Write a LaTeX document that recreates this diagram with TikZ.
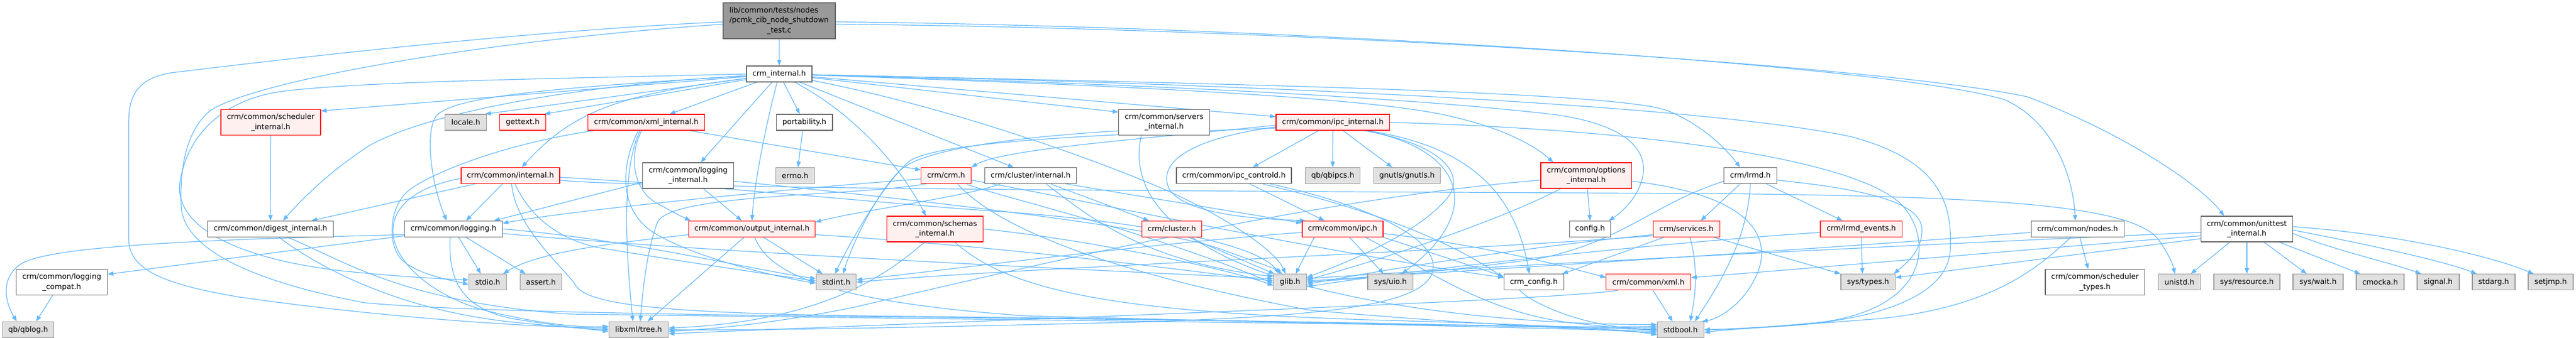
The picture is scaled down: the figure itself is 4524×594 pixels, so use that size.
\documentclass[tikz,border=0pt]{standalone}
\usepackage{fontspec}
\newfontfamily\dfont{DejaVu Sans}
\usetikzlibrary{arrows.meta}
\definecolor{edgec}{HTML}{63B8FF}
\definecolor{redfill}{HTML}{FFF0F0}
\definecolor{redb}{HTML}{FF0000}
\definecolor{grayfill}{HTML}{E0E0E0}
\definecolor{grayb}{HTML}{999999}
\definecolor{normb}{HTML}{666666}
\definecolor{topfill}{HTML}{999999}
\pgfdeclarelayer{bg}
\pgfsetlayers{bg,main}
\begin{document}
\begin{tikzpicture}[x=1pt,y=-1pt,
  hbox/.style={draw=normb, fill=white, line width=1.2pt, inner sep=0pt, align=center, font=\dfont\fontsize{13}{17.2}\selectfont, text=black},
  redbox/.style={hbox, draw=redb, fill=redfill},
  sysbox/.style={hbox, draw=grayb, fill=grayfill},
  topbox/.style={hbox, draw=normb, fill=topfill},
  sa/.style={minimum height=28pt},
  sb/.style={minimum height=45pt},
  dep/.style={draw=edgec, line width=1.2pt, -{Triangle[length=10pt,width=7.5pt]}}
]
\useasboundingbox (0,0) rectangle (4524,594);
% nodes
\node[topbox, minimum width=197pt, minimum height=63pt, text width=175pt, align=left] (topf) at (1368.5,36.5) {lib/common/tests/nodes\\/pcmk\_cib\_node\_shutdown\\\hspace*{\fill}\_test.c\hspace*{\fill}};
\node[hbox, sa, minimum width=115pt] (crmint) at (1368.5,130) {crm\_internal.h};
\node[redbox, sb, minimum width=175pt] (schedint) at (475.5,215) {crm/common/scheduler\\\_internal.h};
\node[hbox, sa, minimum width=221pt] (digest) at (475,402.4) {crm/common/digest\_internal.h};
\node[hbox, sb, minimum width=160pt] (logcompat) at (108.5,496) {crm/common/logging\\\_compat.h};
\node[sysbox, sa, minimum width=90pt] (qblog) at (49.5,579.5) {qb/qblog.h};
\node[sysbox, sa, minimum width=73pt] (locale) at (818,215) {locale.h};
\node[redbox, sa, minimum width=81pt] (gettext) at (918,215) {gettext.h};
\node[redbox, sa, minimum width=205pt] (xmlint) at (1135,215) {crm/common/xml\_internal.h};
\node[redbox, sa, minimum width=173pt] (cint) at (896.5,308.6) {crm/common/internal.h};
\node[hbox, sa, minimum width=171.5pt] (logging) at (796.5,402.4) {crm/common/logging.h};
\node[sysbox, sa, minimum width=66pt] (stdio) at (856.5,495.8) {stdio.h};
\node[sysbox, sa, minimum width=73pt] (assert) at (950,495.8) {assert.h};
\node[sysbox, sa, minimum width=104.6pt] (libxml) at (1121.5,579.5) {libxml/tree.h};
\node[hbox, sa, minimum width=98.7pt] (portab) at (1412.6,215) {portability.h};
\node[sysbox, sa, minimum width=68pt] (errno) at (1396.4,308.6) {errno.h};
\node[hbox, sb, minimum width=160pt] (logint) at (1208.5,308.5) {crm/common/logging\\\_internal.h};
\node[redbox, sa, minimum width=222pt] (outint) at (1320.6,402.4) {crm/common/output\_internal.h};
\node[sysbox, sa, minimum width=70.4pt] (stdint) at (1468.5,495.8) {stdint.h};
\node[redbox, sa, minimum width=87.7pt] (crm) at (1661.6,308.6) {crm/crm.h};
\node[redbox, sb, minimum width=169pt] (schemas) at (1642,402.4) {crm/common/schemas\\\_internal.h};
\node[hbox, sa, minimum width=160.7pt] (clint) at (1810,308.6) {crm/cluster/internal.h};
\node[hbox, sb, minimum width=159.6pt] (servers) at (2044.4,215) {crm/common/servers\\\_internal.h};
\node[redbox, sa, minimum width=105.7pt] (cluster) at (2058,402.4) {crm/cluster.h};
\node[hbox, sa, minimum width=202pt] (ipcctl) at (2167,308.6) {crm/common/ipc\_controld.h};
\node[sysbox, sa, minimum width=57.8pt] (glib) at (2265.6,495.8) {glib.h};
\node[redbox, sa, minimum width=199.3pt] (ipcint) at (2340.7,215) {crm/common/ipc\_internal.h};
\node[sysbox, sa, minimum width=95.7pt] (qbipcs) at (2340.5,308.6) {qb/qbipcs.h};
\node[sysbox, sa, minimum width=117.5pt] (gnutls) at (2471,308.6) {gnutls/gnutls.h};
\node[redbox, sa, minimum width=142pt] (ipc) at (2358,402.4) {crm/common/ipc.h};
\node[sysbox, sa, minimum width=79.7pt] (uio) at (2441.9,495.8) {sys/uio.h};
\node[hbox, sa, minimum width=104.8pt] (crmconfig) at (2693.7,495.8) {crm\_config.h};
\node[redbox, sb, minimum width=159.7pt] (options) at (2785.8,308.5) {crm/common/options\\\_internal.h};
\node[hbox, sa, minimum width=72.7pt] (config) at (2792.5,402.4) {config.h};
\node[hbox, sa, minimum width=93pt] (lrmd) at (3074,308.6) {crm/lrmd.h};
\node[redbox, sa, minimum width=116.7pt] (services) at (2961.9,402.4) {crm/services.h};
\node[redbox, sa, minimum width=143.5pt] (lrmdev) at (3268.8,402.4) {crm/lrmd\_events.h};
\node[redbox, sa, minimum width=148.5pt] (xml) at (2895,495.8) {crm/common/xml.h};
\node[sysbox, sa, minimum width=95.3pt] (systypes) at (3280.7,495.8) {sys/types.h};
\node[sysbox, sa, minimum width=82pt] (stdbool) at (2951.4,579.5) {stdbool.h};
\node[hbox, sa, minimum width=163pt] (nodes) at (3648.7,402.4) {crm/common/nodes.h};
\node[hbox, sb, minimum width=174.5pt] (schedtypes) at (3679.3,496) {crm/common/scheduler\\\_types.h};
\node[sysbox, sa, minimum width=74pt] (unistd) at (3827.6,495.8) {unistd.h};
\node[hbox, sb, minimum width=161pt] (unittest) at (3946,402.4) {crm/common/unittest\\\_internal.h};
\node[sysbox, sa, minimum width=116pt] (resource) at (3946,495.8) {sys/resource.h};
\node[sysbox, sa, minimum width=88pt] (wait) at (4071,495.8) {sys/wait.h};
\node[sysbox, sa, minimum width=84pt] (cmocka) at (4180,495.8) {cmocka.h};
\node[sysbox, sa, minimum width=74pt] (signal) at (4282,495.8) {signal.h};
\node[sysbox, sa, minimum width=75pt] (stdarg) at (4379.5,495.8) {stdarg.h};
\node[sysbox, sa, minimum width=79pt] (setjmp) at (4479.5,495.8) {setjmp.h};

\begin{pgfonlayer}{bg}
\fill[white] (0,0) rectangle (4524,594);
% top
\draw[dep] (topf) -- (crmint);
\draw[dep] ([yshift=-2pt]topf.west) .. controls (900,55) and (450,110) .. (300,128) .. controls (240,138) and (226,170) .. (226,215) -- (226,420) .. controls (226,475) and (290,500) .. (420,522) .. controls (650,555) and (900,574) .. ([yshift=3pt]libxml.west);
\draw[dep] ([yshift=-6pt]topf.west) .. controls (800,75) and (420,150) .. (365,198) .. controls (325,235) and (316,300) .. (318,360) .. controls (320,430) and (420,490) .. (640,532) .. controls (900,556) and (1700,556) .. (2300,566) .. controls (2600,572) and (2800,576) .. ([yshift=6pt]stdbool.west);
\draw[dep] ([yshift=-2pt]topf.east) .. controls (2200,45) and (3300,110) .. (3520,175) .. controls (3600,210) and (3640,300) .. ([xshift=-4pt]nodes.north);
\draw[dep] ([yshift=-6pt]topf.east) .. controls (2300,50) and (3300,115) .. (3560,170) .. controls (3720,230) and (3860,320) .. ([xshift=-40pt]unittest.north);
% crm_internal
\draw[dep] (crmint) -- ([yshift=-3pt]schedint.north east);
\draw[dep] (crmint) .. controls (1000,150) and (750,200) .. (650,255) .. controls (580,300) and (530,350) .. ([xshift=22pt]digest.north);
\draw[dep] (crmint) -- ([xshift=-3pt]locale.north east);
\draw[dep] (crmint) -- ([xshift=-3pt]gettext.north east);
\draw[dep] (crmint) -- ([xshift=41pt]xmlint.north);
\draw[dep] (crmint) .. controls (1100,165) and (1010,190) .. ([xshift=20pt]cint.north);
\draw[dep] (crmint) .. controls (900,158) and (790,175) .. (765,205) .. controls (745,240) and (760,330) .. ([xshift=-12pt]logging.north);
\draw[dep] (crmint) -- ([xshift=22pt]logint.north);
\draw[dep] (crmint) .. controls (1345,220) and (1325,320) .. (outint.north);
\draw[dep] (crmint) -- ([xshift=-8pt]portab.north);
\draw[dep] (crmint) .. controls (1500,200) and (1580,290) .. ([xshift=-16pt]schemas.north);
\draw[dep] (crmint) -- ([xshift=-30pt]clint.north);
\draw[dep] (crmint) -- ([yshift=18pt]servers.west);
\draw[dep] (crmint) -- ([yshift=10pt]ipcint.west);
\draw[dep] (crmint) .. controls (1900,148) and (2400,168) .. (2550,205) .. controls (2650,228) and (2700,260) .. ([xshift=-58pt]options.north);
\draw[dep] (crmint) .. controls (1900,145) and (2400,165) .. (2700,198) .. controls (2850,212) and (2895,260) .. (2885,310) .. controls (2878,345) and (2850,372) .. ([xshift=-4pt]config.north east);
\draw[dep] (crmint) .. controls (2200,148) and (2850,162) .. (2930,195) .. controls (2990,220) and (3030,260) .. ([xshift=-18pt]lrmd.north);
\draw[dep] (crmint) .. controls (2300,150) and (3000,188) .. (3250,240) .. controls (3400,280) and (3430,350) .. (3425,440) .. controls (3420,520) and (3300,560) .. (3150,572) .. controls (3080,577) and (3030,579) .. (stdbool.east);
\draw[dep] (crmint) .. controls (1650,185) and (1900,270) .. (2050,335) .. controls (2150,380) and (2240,440) .. ([xshift=-8pt]glib.north);
\draw[dep] (crmint.west) .. controls (1000,138) and (650,142) .. (500,160) .. controls (400,172) and (330,230) .. (316,320) .. controls (305,400) and (420,455) .. (600,476) .. controls (700,486) and (770,490) .. ([yshift=4pt]stdio.west);
% scheduler / digest
\draw[dep] (schedint) -- (digest);
\draw[dep] ([xshift=15pt]digest.south) .. controls (560,470) and (700,545) .. (900,566) .. controls (990,575) and (1030,578) .. (libxml.west);
\draw[dep] ([xshift=30pt]digest.south) .. controls (600,455) and (700,530) .. (1000,552) .. controls (1800,562) and (2600,572) .. ([yshift=3pt]stdbool.west);
% logging
\draw[dep] ([xshift=-16pt]logcompat.south) -- ([xshift=14pt]qblog.north);
\draw[dep] ([yshift=-10pt]logging.west) .. controls (400,420) and (100,430) .. (40,462) .. controls (0,485) and (8,530) .. ([xshift=-20pt]qblog.north);
\draw[dep] ([yshift=-12pt]logging.west) -- ([yshift=14pt]logcompat.east);
\draw[dep] ([xshift=9pt]logging.south) -- ([xshift=-12pt]stdio.north);
\draw[dep] ([xshift=22pt]logging.south) -- ([xshift=-27pt]assert.north);
\draw[dep] ([xshift=-6pt]logging.south) .. controls (788,480) and (800,540) .. (900,560) .. controls (980,573) and (1030,578) .. ([yshift=-3pt]libxml.west);
\draw[dep] (logging.east) .. controls (1100,420) and (1300,470) .. ([yshift=6pt]stdint.west);
\draw[dep] ([yshift=-8pt]logging.east) .. controls (1300,448) and (2000,478) .. ([yshift=6pt]glib.west);
\draw[dep] ([xshift=-3pt]portab.south) -- ([xshift=5pt]errno.north);
% internal.h
\draw[dep] ([xshift=-62pt]cint.south) -- ([xshift=72pt]digest.north);
\draw[dep] ([xshift=-14pt]cint.south) -- ([xshift=22pt]logging.north);
\draw[dep] ([yshift=-5pt]cint.west) .. controls (720,330) and (690,370) .. (690,405) .. controls (690,460) and (760,520) .. (850,545) .. controls (950,570) and (1020,576) .. ([yshift=6pt]libxml.west);
\draw[dep] ([xshift=2pt]cint.south) .. controls (905,400) and (990,470) .. (1010,500) .. controls (1030,540) and (1200,552) .. (1600,556) .. controls (2200,562) and (2700,574) .. (stdbool.west);
\draw[dep] ([xshift=8pt]cint.south) .. controls (930,380) and (980,420) .. (1050,435) .. controls (1200,460) and (1350,482) .. ([yshift=2pt]stdint.west);
\draw[dep] ([yshift=-8pt]cint.east) .. controls (1100,330) and (2000,336) .. (3000,340) .. controls (3500,345) and (3740,360) .. (3790,420) .. controls (3808,445) and (3816,465) .. ([xshift=-8pt]unistd.north);
\draw[dep] ([yshift=-3pt]cint.east) .. controls (1300,330) and (1600,362) .. (1760,372) .. controls (1950,385) and (2200,420) .. ([xshift=-18pt]glib.north);
% xml_internal
\draw[dep] ([xshift=76pt]xmlint.south) -- ([yshift=10pt]crm.west);
\draw[dep] ([xshift=-8pt]xmlint.south) .. controls (1105,270) and (1110,330) .. (1150,355) .. controls (1180,372) and (1200,382) .. ([xshift=4pt]outint.north west);
\draw[dep] ([xshift=-11pt]xmlint.south) .. controls (1090,300) and (1100,450) .. ([xshift=-10pt]libxml.north);
\draw[dep] ([xshift=-14pt]xmlint.south) .. controls (1090,290) and (1085,370) .. (1150,410) .. controls (1220,452) and (1350,484) .. ([yshift=-2pt]stdint.west);
\draw[dep] ([xshift=-92pt]xmlint.south) .. controls (900,250) and (760,300) .. (715,337) .. controls (680,370) and (680,440) .. (712,462) .. controls (745,485) and (790,492) .. ([yshift=-4pt]stdio.west);
% logging_internal
\draw[dep] ([xshift=27pt]logint.south) -- ([xshift=-18pt]outint.north);
\draw[dep] ([yshift=-12pt]logint.west) -- ([xshift=71pt]logging.north);
\draw[dep] ([yshift=-10pt]logint.east) .. controls (1600,350) and (2050,400) .. (2150,440) .. controls (2210,462) and (2240,472) .. ([xshift=-14pt]glib.north);
% output_internal
\draw[dep] ([xshift=-14pt]outint.south) -- ([xshift=16pt]libxml.north);
\draw[dep] ([xshift=20pt]outint.south) -- ([xshift=-24pt]stdint.north);
\draw[dep] ([yshift=-10pt]outint.west) .. controls (1100,425) and (950,440) .. ([xshift=27pt]stdio.north);
\draw[dep] ([xshift=5pt]outint.south) .. controls (1350,480) and (1450,530) .. (1800,555) .. controls (2300,568) and (2700,576) .. ([yshift=-3pt]stdbool.west);
\draw[dep] ([yshift=-10pt]outint.east) .. controls (1800,436) and (2100,478) .. ([yshift=2pt]glib.west);
% crm.h
\draw[dep] ([yshift=-6pt]crm.west) .. controls (1400,330) and (1000,370) .. ([yshift=10pt]logging.east);
\draw[dep] (crm) .. controls (1750,345) and (2000,400) .. ([yshift=-2pt]glib.west);
\draw[dep] ([xshift=20pt]crm.south) .. controls (1750,400) and (1950,480) .. (2300,545) .. controls (2600,572) and (2800,578) .. ([yshift=-6pt]stdbool.west);
\draw[dep] ([yshift=-8pt]crm.east) .. controls (1900,350) and (2300,440) .. ([yshift=8pt]crmconfig.west);
\draw[dep] ([xshift=-35pt]crm.south) .. controls (1500,345) and (1180,340) .. (1155,390) .. controls (1135,440) and (1128,520) .. ([xshift=3pt]libxml.north);
% schemas
\draw[dep] ([xshift=-18pt]schemas.south) .. controls (1560,480) and (1450,565) .. ([yshift=3pt]libxml.east);
\draw[dep] (schemas.east) .. controls (1900,420) and (2150,470) .. ([yshift=-6pt]glib.west);
\draw[dep] ([xshift=-50pt]schemas.south east) .. controls (1780,520) and (2000,548) .. (2400,562) .. controls (2700,570) and (2850,578) .. ([yshift=-9pt]stdbool.west);
% cluster internal
\draw[dep] ([xshift=35pt]clint.south) -- ([xshift=-40pt]cluster.north);
\draw[dep] ([xshift=27pt]clint.south) .. controls (1900,370) and (2000,460) .. ([yshift=10pt]glib.west);
\draw[dep] ([xshift=62pt]clint.south) -- ([yshift=-4pt]ipc.north west);
\draw[dep] ([xshift=-53pt]clint.south) .. controls (1700,345) and (1500,372) .. ([yshift=12pt]outint.east);
% servers
\draw[dep] ([xshift=-40pt]servers.south) .. controls (1990,300) and (2010,380) .. (2150,450) .. controls (2300,525) and (2600,570) .. ([yshift=9pt]stdbool.west);
\draw[dep] ([yshift=-15pt]servers.west) .. controls (1800,240) and (1620,260) .. (1580,300) .. controls (1540,340) and (1500,420) .. ([xshift=12pt]stdint.north);
% ipc_internal
\draw[dep] ([yshift=-10pt]ipcint.west) .. controls (2000,235) and (1640,245) .. (1595,285) .. controls (1555,320) and (1495,420) .. ([xshift=-2pt]stdint.north);
\draw[dep] ([yshift=-5pt]ipcint.west) .. controls (2000,245) and (1760,262) .. (crm.north east);
\draw[dep] ([xshift=-25pt]ipcint.south) -- ([xshift=33pt]ipcctl.north);
\draw[dep] (ipcint.south) -- (qbipcs.north);
\draw[dep] ([xshift=18pt]ipcint.south) -- ([xshift=-26pt]gnutls.north);
\draw[dep] ([yshift=-8pt]ipcint.west) .. controls (2080,245) and (2030,290) .. (2055,335) .. controls (2090,380) and (2220,385) .. ([xshift=6pt]ipc.north west);
\draw[dep] ([xshift=55pt]ipcint.south) .. controls (2540,255) and (2575,310) .. (2540,350) .. controls (2480,420) and (2340,470) .. ([yshift=8pt]glib.east);
\draw[dep] ([xshift=57pt]ipcint.south) .. controls (2570,262) and (2610,370) .. ([xshift=20pt]uio.north);
\draw[dep] ([xshift=60pt]ipcint.south) .. controls (2570,255) and (2660,330) .. ([xshift=-8pt]crmconfig.north);
\draw[dep] (ipcint.east) .. controls (2900,228) and (3260,280) .. (3340,360) .. controls (3395,420) and (3390,540) .. (3200,566) .. controls (3100,576) and (3030,579) .. ([yshift=-5pt]stdbool.east);
% ipc_controld
\draw[dep] ([xshift=28pt]ipcctl.south) -- ([xshift=-32pt]ipc.north);
\draw[dep] ([xshift=64pt]ipcctl.south) .. controls (2400,360) and (2535,420) .. (2515,480) .. controls (2495,540) and (2300,556) .. (2000,566) .. controls (1600,576) and (1300,581) .. (libxml.east);
\draw[dep] ([xshift=50pt]ipcctl.south) .. controls (2330,350) and (2560,410) .. (2680,520) .. controls (2760,570) and (2860,578) .. ([yshift=-1pt]stdbool.west);
% ipc
\draw[dep] ([xshift=12pt]ipc.south) -- ([xshift=-12pt]uio.north);
\draw[dep] (ipc.south east) -- ([yshift=10pt]crmconfig.west);
\draw[dep] ([xshift=-50pt]ipc.south) -- ([xshift=10pt]glib.north);
\draw[dep] ([yshift=-6pt]ipc.west) .. controls (2000,430) and (1700,470) .. ([yshift=4pt]stdint.east);
\draw[dep] ([xshift=40pt]ipc.south) .. controls (2500,470) and (2600,545) .. (2750,566) .. controls (2830,576) and (2880,579) .. ([yshift=1pt]stdbool.west);
\draw[dep] ([yshift=-8pt]ipc.east) .. controls (2600,430) and (2750,468) .. ([yshift=8pt]xml.west);
\draw[dep] ([xshift=30pt]cluster.south) -- ([xshift=2pt]glib.north west);
% options
\draw[dep] ([xshift=2pt]options.south) -- (config.north);
\draw[dep] ([xshift=-45pt]options.south) .. controls (2650,380) and (2450,450) .. ([yshift=4pt]glib.east);
\draw[dep] ([yshift=-10pt]options.east) .. controls (3050,340) and (3110,400) .. (3090,470) .. controls (3070,530) and (3020,560) .. ([xshift=-4pt]stdbool.north east);
\draw[dep] ([yshift=-8pt]options.west) .. controls (2300,350) and (1800,470) .. (1500,540) .. controls (1350,570) and (1250,578) .. ([yshift=-3pt]libxml.east);
% lrmd
\draw[dep] ([xshift=-18pt]lrmd.south) -- ([xshift=25pt]services.north);
\draw[dep] ([xshift=28pt]lrmd.south) -- ([xshift=-33pt]lrmdev.north);
\draw[dep] (lrmd.south) .. controls (3070,400) and (3040,470) .. ([xshift=25pt]stdbool.north);
\draw[dep] ([yshift=-10pt]lrmd.west) .. controls (2900,360) and (2850,425) .. (2700,455) .. controls (2500,482) and (2350,492) .. (glib.east);
\draw[dep] ([yshift=-8pt]lrmd.east) .. controls (3250,330) and (3370,350) .. (3375,400) .. controls (3378,440) and (3345,465) .. ([xshift=-3pt]systypes.north east);
% services
\draw[dep] ([xshift=6pt]services.south) .. controls (2985,480) and (2975,530) .. ([xshift=17pt]stdbool.north);
\draw[dep] ([xshift=48pt]services.south) -- (systypes.north west);
\draw[dep] ([yshift=-10pt]services.west) .. controls (2700,432) and (2450,470) .. ([yshift=-4pt]glib.east);
\draw[dep] ([xshift=-40pt]services.south) .. controls (2860,440) and (2790,465) .. ([xshift=-3pt]crmconfig.north east);
\draw[dep] ([yshift=-12pt]services.west) .. controls (2500,445) and (1800,470) .. (stdint.east);
% lrmd_events
\draw[dep] (lrmdev.south) -- ([xshift=-10pt]systypes.north);
\draw[dep] ([yshift=-6pt]lrmdev.west) .. controls (2900,428) and (2500,472) .. ([yshift=-8pt]glib.east);
% xml
\draw[dep] ([xshift=8pt]xml.south) -- ([xshift=-14pt]stdbool.north);
\draw[dep] ([xshift=-54pt]xml.south) .. controls (2700,530) and (1800,560) .. ([yshift=-7pt]libxml.east);
% nodes
\draw[dep] ([xshift=4pt]nodes.south) -- ([xshift=-12pt]schedtypes.north);
\draw[dep] ([xshift=-12pt]nodes.south) .. controls (3580,470) and (3500,540) .. (3300,560) .. controls (3150,572) and (3050,578) .. (stdbool.east);
\draw[dep] ([yshift=-6pt]nodes.west) .. controls (3100,445) and (2500,480) .. ([yshift=2pt]glib.east);
% unittest
\draw[dep] ([xshift=-30pt]unittest.south) -- ([xshift=20pt]unistd.north);
\draw[dep] (unittest.south) -- (resource.north);
\draw[dep] ([xshift=30pt]unittest.south) -- ([xshift=-20pt]wait.north);
\draw[dep] ([xshift=57pt]unittest.south) -- ([xshift=-35pt]cmocka.north);
\draw[dep] ([yshift=-8pt]unittest.east) .. controls (4100,440) and (4200,462) .. ([xshift=-30pt]signal.north);
\draw[dep] ([yshift=-2pt]unittest.east) .. controls (4150,428) and (4290,458) .. ([xshift=-30pt]stdarg.north);
\draw[dep] ([yshift=4pt]unittest.east) .. controls (4220,412) and (4380,452) .. ([xshift=-30pt]setjmp.north);
\draw[dep] ([yshift=-17pt]unittest.west) -- ([yshift=8pt]systypes.east);
\draw[dep] ([yshift=-12pt]unittest.west) .. controls (3600,435) and (3200,470) .. ([yshift=8pt]xml.east);
\draw[dep] ([yshift=-6pt]unittest.west) .. controls (3400,428) and (2600,468) .. ([yshift=6pt]glib.east);
\end{pgfonlayer}
\end{tikzpicture}
\end{document}
